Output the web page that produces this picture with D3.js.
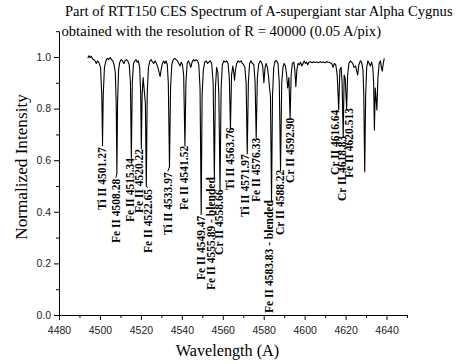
<!DOCTYPE html>
<html>
<head>
<meta charset="utf-8">
<script src="https://cdn.jsdelivr.net/npm/d3@7"></script>
<style>
  html, body { margin: 0; padding: 0; background: #fff; }
  svg { display: block; }
</style>
</head>
<body>
<svg id="chart" width="466" height="364"></svg>
<script>
// Normalized spectrum samples: [wavelength (A), normalized intensity]
const spectrum = [
  [4494.1, 0.995], [4494.6, 1.005], [4495.2, 0.998], [4495.8, 1.003], [4496.4, 0.992],
  [4497.0, 0.990], [4497.6, 0.985], [4498.2, 0.975], [4498.8, 0.985], [4499.5, 0.978],
  [4500.3, 0.960], [4500.9, 0.850], [4501.27, 0.667], [4501.6, 0.850], [4502.2, 0.960],
  [4502.9, 0.985], [4503.6, 0.995], [4504.2, 0.990], [4505.0, 0.998], [4505.7, 0.990],
  [4506.3, 0.985], [4506.9, 0.970], [4507.5, 0.940], [4507.95, 0.820], [4508.28, 0.550],
  [4508.6, 0.820], [4509.1, 0.950], [4509.7, 0.980], [4510.4, 0.990], [4511.0, 0.985],
  [4511.7, 0.975], [4512.2, 0.985], [4512.9, 0.990], [4513.6, 0.985], [4514.3, 0.970],
  [4514.9, 0.900], [4515.34, 0.610], [4515.8, 0.900], [4516.4, 0.975], [4517.0, 0.985],
  [4517.6, 0.990], [4518.2, 0.980], [4518.8, 0.985], [4519.4, 0.960], [4519.9, 0.860],
  [4520.22, 0.645], [4520.6, 0.850], [4521.1, 0.920], [4522.2, 0.820], [4522.65, 0.500],
  [4523.1, 0.860], [4523.7, 0.960], [4524.4, 0.985], [4525.0, 0.990], [4525.7, 0.980],
  [4526.3, 0.975], [4527.0, 0.985], [4527.6, 0.975], [4528.3, 0.960], [4528.9, 0.940],
  [4529.4, 0.925], [4529.9, 0.950], [4530.5, 0.975], [4531.1, 0.985], [4531.7, 0.975],
  [4532.3, 0.985], [4532.9, 0.970], [4533.4, 0.900], [4533.97, 0.575], [4534.5, 0.880],
  [4535.1, 0.970], [4535.8, 0.990], [4536.5, 0.995], [4537.2, 0.990], [4537.9, 0.985],
  [4538.5, 0.975], [4539.2, 0.965], [4539.7, 0.980], [4540.3, 0.970], [4540.9, 0.930],
  [4541.52, 0.655], [4542.0, 0.900], [4542.6, 0.975], [4543.2, 0.985], [4543.8, 0.975],
  [4544.4, 0.960], [4545.0, 0.980], [4545.7, 0.990], [4546.3, 0.985], [4547.0, 0.990],
  [4547.7, 0.985], [4548.3, 0.970], [4548.9, 0.880], [4549.47, 0.390], [4549.9, 0.850],
  [4550.5, 0.950], [4551.2, 0.980], [4551.9, 0.985], [4552.6, 0.975], [4553.2, 0.980],
  [4553.9, 0.985], [4554.6, 0.975], [4555.3, 0.900], [4555.89, 0.530], [4556.4, 0.880],
  [4557.0, 0.960], [4557.6, 0.940], [4558.1, 0.850], [4558.66, 0.485], [4559.2, 0.880],
  [4559.8, 0.970], [4560.5, 0.985], [4561.2, 0.980], [4561.9, 0.985], [4562.6, 0.975],
  [4563.2, 0.920], [4563.76, 0.725], [4564.3, 0.930], [4564.9, 0.965], [4565.4, 0.940],
  [4565.75, 0.910], [4566.2, 0.950], [4566.8, 0.975], [4567.5, 0.985], [4568.2, 0.980],
  [4568.9, 0.985], [4569.6, 0.975], [4570.2, 0.970], [4570.8, 0.960], [4571.4, 0.900],
  [4571.97, 0.625], [4572.5, 0.900], [4573.1, 0.975], [4573.8, 0.985], [4574.5, 0.975],
  [4575.2, 0.970], [4575.8, 0.900], [4576.33, 0.685], [4576.9, 0.920], [4577.5, 0.970],
  [4578.2, 0.985], [4578.9, 0.980], [4579.5, 0.965], [4580.1, 0.900], [4580.6, 0.955],
  [4581.2, 0.975], [4581.8, 0.960], [4582.3, 0.930], [4582.85, 0.880], [4583.3, 0.850],
  [4583.83, 0.440], [4584.3, 0.850], [4584.9, 0.960], [4585.6, 0.985], [4586.3, 0.985],
  [4587.0, 0.975], [4587.6, 0.900], [4588.22, 0.560], [4588.8, 0.900], [4589.4, 0.960],
  [4590.0, 0.975], [4590.6, 0.965], [4591.2, 0.930], [4591.7, 0.880], [4592.3, 0.920],
  [4592.90, 0.760], [4593.4, 0.930], [4594.0, 0.975], [4594.7, 0.980], [4595.2, 0.950],
  [4595.7, 0.885], [4596.2, 0.950], [4596.8, 0.975], [4597.4, 0.970], [4598.0, 0.980],
  [4598.6, 0.965], [4599.2, 0.975], [4599.8, 0.985], [4600.4, 0.975], [4601.0, 0.980],
  [4601.5, 0.970], [4602.1, 0.980], [4602.8, 0.982], [4603.6, 0.978], [4604.4, 0.982],
  [4605.2, 0.979], [4606.0, 0.981], [4606.8, 0.978], [4607.6, 0.982], [4608.4, 0.979],
  [4609.2, 0.981], [4610.0, 0.978], [4610.8, 0.982], [4611.6, 0.980], [4612.4, 0.978],
  [4613.2, 0.975], [4613.9, 0.960], [4614.5, 0.975], [4615.2, 0.970], [4615.9, 0.930],
  [4616.64, 0.795], [4617.2, 0.950], [4617.8, 0.960], [4618.3, 0.900], [4618.83, 0.690],
  [4619.3, 0.930], [4619.8, 0.920], [4620.51, 0.800], [4621.0, 0.930], [4621.6, 0.975],
  [4622.3, 0.985], [4622.9, 0.980], [4623.5, 0.975], [4624.1, 0.960], [4624.9, 0.965],
  [4625.9, 0.930], [4626.5, 0.970], [4627.2, 0.985], [4627.8, 0.980], [4628.5, 0.950],
  [4628.9, 0.850], [4629.34, 0.555], [4629.8, 0.850], [4630.3, 0.960], [4630.9, 0.985],
  [4631.5, 0.975], [4632.1, 0.965], [4632.7, 0.980], [4633.3, 0.960], [4633.7, 0.900],
  [4634.07, 0.717], [4634.5, 0.880], [4635.3, 0.795], [4635.8, 0.920], [4636.4, 0.975],
  [4637.0, 0.985], [4637.5, 0.960], [4637.9, 0.945], [4638.4, 0.975], [4638.9, 0.995]
];

// Identified lines: rest wavelength, ion label
const lineWavelength = [4501.27, 4508.28, 4515.34, 4520.22, 4522.65, 4533.97, 4541.52,
  4549.47, 4555.89, 4558.66, 4563.76, 4571.97, 4576.33, 4583.83, 4588.22, 4592.90,
  4616.64, 4618.83, 4620.513];
const lineName = ["Ti II 4501.27", "Fe II 4508.28", "Fe II 4515.34", "Fe II 4520.22",
  "Fe II 4522.65", "Ti II 4533.97", "Fe II 4541.52", "Fe II 4549.47",
  "Fe II 4555.89 - blended", "Cr II 4558.66", "Ti II 4563.76", "Ti II 4571.97",
  "Fe II 4576.33", "Fe II 4583.83 - blended", "Cr II 4588.22", "Cr II 4592.90",
  "Cr II 4616.64", "Cr II 4618.83", "Fe II 4620.513"];

// Label layout: intensity level where each label text starts, and a small
// wavelength shift that keeps crowded labels apart
const labelFoot = [0.407, 0.279, 0.360, 0.395, 0.240, 0.310, 0.407, 0.136, 0.097,
  0.233, 0.484, 0.380, 0.438, 0.008, 0.310, 0.512, 0.543, 0.442, 0.531];
const labelShift = [0, -0.5, -0.7, -1.0, 0.7, -0.8, -0.5, 0, -1.4, -0.5, -0.3, -1.2,
  0, -1.3, 0, 0, -1.6, -0.3, 1.4];

// Axis ticks
const xMajorTicks = [4480, 4500, 4520, 4540, 4560, 4580, 4600, 4620, 4640];
const xMinorTicks = [4490, 4510, 4530, 4550, 4570, 4590, 4610, 4630, 4650];
const yMajorTicks = [0.0, 0.2, 0.4, 0.6, 0.8, 1.0];
const yMinorTicks = [0.1, 0.3, 0.5, 0.7, 0.9, 1.1];

const titleLines = [
  "Part of RTT150 CES Spectrum of A-supergiant star Alpha Cygnus",
  "obtained with the resolution of R = 40000 (0.05 A/pix)"
];

const svg = d3.select("#chart");
const x = d3.scaleLinear().domain([4480, 4650]).range([59, 407]);
const y = d3.scaleLinear().domain([0, 1.1]).range([315, 31.2]);

const serif = "'Liberation Serif', 'Times New Roman', serif";
const sans = "'Liberation Sans', Arial, sans-serif";

// Title
svg.append("text").attr("x", 65).attr("y", 16)
  .attr("font-family", serif).attr("font-size", 14.6).attr("fill", "#000")
  .text(titleLines[0]);
svg.append("text").attr("x", 61.5).attr("y", 36)
  .attr("font-family", serif).attr("font-size", 14.6).attr("fill", "#000")
  .text(titleLines[1]);

// Axes
function styleAxis(g) {
  g.selectAll("path.domain").attr("stroke", "#000").attr("stroke-width", 1);
  g.selectAll(".tick line").attr("stroke", "#000").attr("stroke-width", 1);
  g.selectAll(".tick text").attr("fill", "#222").attr("font-family", sans).attr("font-size", 10.5);
}

const gx = svg.append("g").attr("transform", "translate(0,315)");
gx.append("g").call(d3.axisBottom(x).tickValues(xMinorTicks).tickSize(3).tickSizeOuter(0).tickFormat(""))
  .call(styleAxis);
gx.append("g").call(d3.axisBottom(x).tickValues(xMajorTicks).tickSize(5).tickSizeOuter(0)
  .tickPadding(6.5).tickFormat(d3.format("d")))
  .call(styleAxis);

const gy = svg.append("g").attr("transform", "translate(59,0)");
gy.append("g").call(d3.axisLeft(y).tickValues(yMinorTicks).tickSize(3).tickSizeOuter(0).tickFormat(""))
  .call(styleAxis);
gy.append("g").call(d3.axisLeft(y).tickValues(yMajorTicks).tickSize(5).tickSizeOuter(0)
  .tickPadding(3).tickFormat(d3.format(".1f")))
  .call(styleAxis);

// Axis titles
svg.append("text").attr("x", 227.5).attr("y", 356)
  .attr("text-anchor", "middle").attr("font-family", serif).attr("font-size", 16.2)
  .text("Wavelength (A)");
svg.append("text").attr("transform", "translate(26.5,167) rotate(-90)")
  .attr("text-anchor", "middle").attr("font-family", serif).attr("font-size", 17.2)
  .text("Normalized Intensity");

// Spectrum
const line = d3.line().x(d => x(d[0])).y(d => y(d[1]));
svg.append("path").datum(spectrum)
  .attr("fill", "none").attr("stroke", "#000").attr("stroke-width", 1.1)
  .attr("stroke-linejoin", "round").attr("d", line);

// Line identifications with leader lines
const minAt = w => {
  let best = spectrum[0];
  spectrum.forEach(p => { if (Math.abs(p[0] - w) < Math.abs(best[0] - w)) best = p; });
  return best[1];
};

const labels = svg.append("g");
lineName.forEach((name, i) => {
  const lx = x(lineWavelength[i] + labelShift[i]);
  const foot = y(labelFoot[i]);
  const t = labels.append("text")
    .attr("transform", `translate(${lx},${foot}) rotate(-90)`)
    .attr("dy", "0.33em")
    .attr("font-family", serif).attr("font-weight", "bold").attr("font-size", 11.5)
    .attr("fill", "#000")
    .text(name);
  const top = foot - t.node().getComputedTextLength();
  const bottom = y(minAt(lineWavelength[i]));
  if (top - bottom > 1.5) {
    labels.append("path")
      .attr("d", `M${x(lineWavelength[i])},${bottom}L${lx},${top - 1}`)
      .attr("stroke", "#000").attr("stroke-width", 1).attr("fill", "none");
  }
});
</script>
</body>
</html>
